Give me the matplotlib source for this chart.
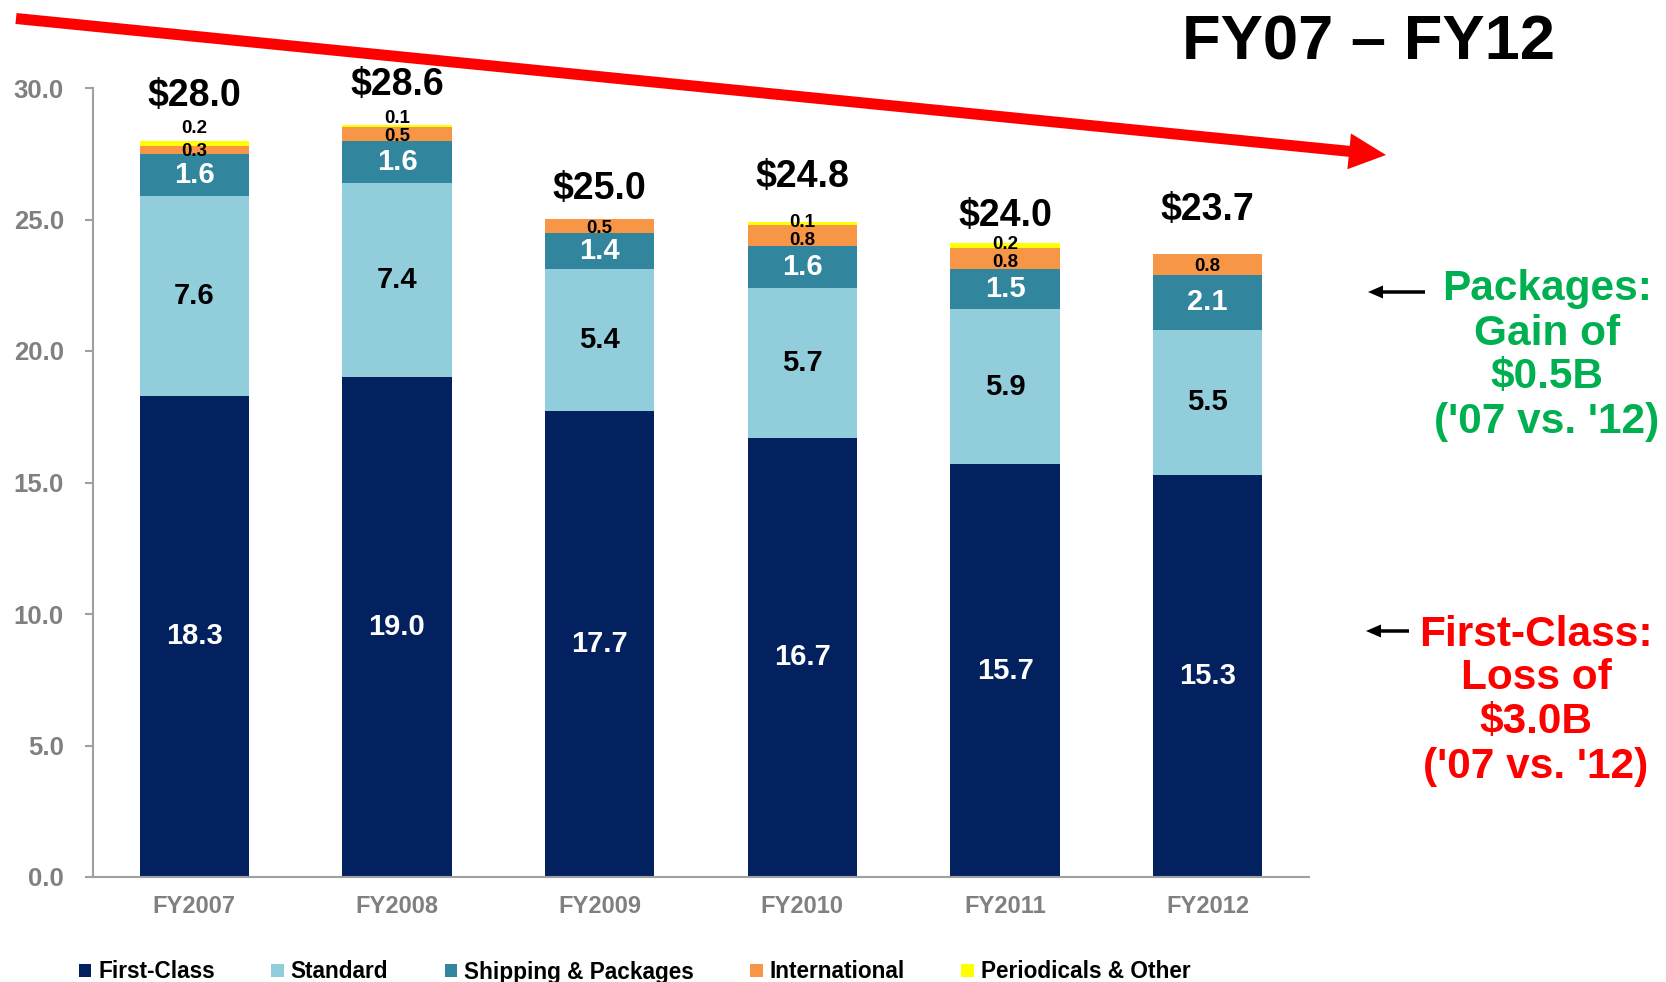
import numpy as np
import matplotlib
matplotlib.use('Agg')
import matplotlib.pyplot as plt
from matplotlib.patches import FancyArrow
from matplotlib.transforms import Affine2D

# ---------------- data ----------------
years = ['FY2007', 'FY2008', 'FY2009', 'FY2010', 'FY2011', 'FY2012']
first_class = [18.3, 19.0, 17.7, 16.7, 15.7, 15.3]
standard = [7.6, 7.4, 5.4, 5.7, 5.9, 5.5]
shipping = [1.6, 1.6, 1.4, 1.6, 1.5, 2.1]
international = [0.3, 0.5, 0.5, 0.8, 0.8, 0.8]
periodicals = [0.2, 0.1, 0.0, 0.1, 0.2, 0.0]
totals = ['$28.0', '$28.6', '$25.0', '$24.8', '$24.0', '$23.7']
series_names = ['First-Class', 'Standard', 'Shipping & Packages',
                'International', 'Periodicals & Other']
yticks = [0, 5, 10, 15, 20, 25, 30]
title = 'FY07 \u2013 FY12'
pkg_note = ['Packages:', 'Gain of', '$0.5B', "('07 vs. '12)"]
fc_note = ['First-Class:', 'Loss of', '$3.0B', "('07 vs. '12)"]

# ---------------- style ----------------
colors = ['#03215E', '#92CDDC', '#31859C', '#F79646', '#FFFF00']
label_colors = ['white', 'black', 'white', 'black', 'black']
label_sizes = [21, 21, 21, 13.5, 13.5]
total_offsets = [1.7, 1.5, 1.15, 1.7, 1.05, 1.65]
small_offsets = [
    [0, 0, 0, 0, 0, 0],
    [0, 0, 0, 0, 0, 0],
    [0, 0, 0, 0, 0, 0],
    [-0.08, -0.08, -0.08, -0.2, -0.12, -0.08],
    [0.55, 0.3, 0.0, 0.02, 0.05, 0.0],
]
gray = '#808080'

plt.rcParams['font.family'] = ['Liberation Sans', 'DejaVu Sans']
plt.rcParams['font.weight'] = 'bold'

W, H = 1666, 982
fig = plt.figure(figsize=(W / 100, H / 100), dpi=100)
ax = fig.add_axes([93 / W, 1 - 877 / H, (1309 - 93) / W, (877 - 88) / H])

# pixel transform (top-left origin)
pix = Affine2D().scale(1, -1).translate(0, H).scale(1 / 100) + fig.dpi_scale_trans

series = [first_class, standard, shipping, international, periodicals]
x = np.arange(len(years))
bottom = np.zeros(len(years))
bar_w = 0.54
for si, (vals, name) in enumerate(zip(series, series_names)):
    vals = np.array(vals, dtype=float)
    ax.bar(x, vals, bar_w, bottom=bottom, color=colors[si], label=name,
           linewidth=0, zorder=2)
    for i, v in enumerate(vals):
        if v > 0:
            ax.text(x[i], bottom[i] + v / 2 + small_offsets[si][i], f'{v:.1f}',
                    ha='center', va='center', color=label_colors[si],
                    fontsize=label_sizes[si], fontweight='bold', clip_on=False,
                    zorder=5)
    bottom = bottom + vals

for i, t in enumerate(totals):
    ax.text(x[i], bottom[i] + total_offsets[i], t, ha='center', va='center',
            fontsize=27, fontweight='bold', color='black', clip_on=False)

ax.set_xlim(-0.5, len(years) - 0.5)
ax.set_ylim(0, 30)
ax.set_yticks(yticks)
ax.set_yticklabels([f'{v:.1f}' for v in yticks])
ax.set_xticks(x)
ax.set_xticklabels(years)
for s in ['top', 'right']:
    ax.spines[s].set_visible(False)
for s in ['left', 'bottom']:
    ax.spines[s].set_color('#A0A0A0')
    ax.spines[s].set_linewidth(1.5)
ax.tick_params(axis='y', direction='out', length=6, width=1.5, color='#A0A0A0',
               pad=15, labelsize=18.5, labelcolor=gray)
ax.tick_params(axis='x', length=0, pad=13, labelsize=17, labelcolor=gray)
for lab in ax.get_xticklabels() + ax.get_yticklabels():
    lab.set_fontweight('bold')

# legend
leg = fig.legend(loc='center left', bbox_to_anchor=(79 / W, 1 - 972 / H),
                 ncol=5, frameon=False, fontsize=16.3, handlelength=0.55,
                 handleheight=0.55, handletextpad=0.3, columnspacing=2.5,
                 borderpad=0, borderaxespad=0)
for txt in leg.get_texts():
    txt.set_fontweight('bold')

# title
fig.text(1369, 43, title, transform=pix, ha='center', va='center',
         fontsize=45.5, fontweight='bold', color='black')

# big red arrow
x0, y0, x1, y1 = 16, 18.5, 1386, 155
fig.add_artist(FancyArrow(x0, y0, x1 - x0, y1 - y0, width=11, head_width=36,
                          head_length=37, length_includes_head=True,
                          color='#FF0000', transform=pix, linewidth=0))

# side notes
pkg_y = [289, 334, 377, 422]
for s, yy in zip(pkg_note, pkg_y):
    fig.text(1547, yy, s, transform=pix, ha='center', va='center',
             fontsize=30.5, fontweight='bold', color='#00B050')
fc_y = [635, 678, 722, 767]
for s, yy in zip(fc_note, fc_y):
    fig.text(1536, yy, s, transform=pix, ha='center', va='center',
             fontsize=30.5, fontweight='bold', color='#FF0000')

fig.add_artist(FancyArrow(1425, 292, -57, 0, width=3.5, head_width=13,
                          head_length=15, length_includes_head=True,
                          color='black', transform=pix, linewidth=0))
fig.add_artist(FancyArrow(1409, 631, -43, 0, width=3.5, head_width=13,
                          head_length=15, length_includes_head=True,
                          color='black', transform=pix, linewidth=0))

fig.savefig('out.png', dpi=100)
